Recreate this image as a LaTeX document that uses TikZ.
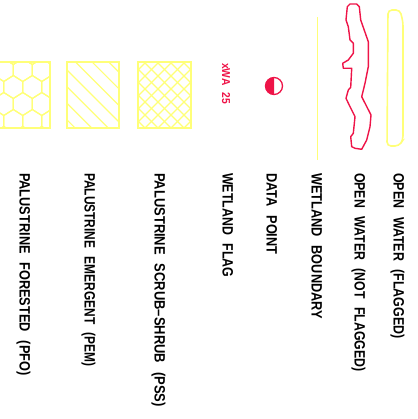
\documentclass[tikz,border=0pt]{standalone}
\usepackage{fontspec}
\newfontfamily\cadfont{Liberation Sans}[FakeStretch=0.85,WordSpace=2.5]
\definecolor{lgdyellow}{RGB}{255,255,120}
\definecolor{lgdred}{RGB}{238,20,72}

\begin{document}
\begin{tikzpicture}[x=1pt,y=-1pt,
  lbl/.style={rotate=-90,anchor=base west,inner sep=0pt,font=\cadfont\bfseries\fontsize{15}{15}\selectfont},
  patch/.style={draw=lgdyellow,line width=1.4pt},
  hatch/.style={draw=lgdyellow,line width=1.2pt}]
\useasboundingbox (0,0) rectangle (417,419);
% open water symbols
\draw[lgdyellow,line width=1.6pt,rounded corners=4pt] (388,10) -- (400,10) -- (403,22) -- (403,140) -- (399,146) -- (387,146) -- cycle;
\draw[lgdred,line width=1.4pt,line join=round] plot coordinates {(350,4) (356.7,4) (359.3,6.7) (360.7,20) (368.3,41.7) (368.3,66.7) (365,83.3) (361.7,96.7) (371,115) (370,126.7) (366.7,140) (361.7,149.3) (355,148.3) (351.7,146.7) (350.7,136.7) (353.3,133.3) (355,116.7) (350,106.7) (346,98.3) (348.3,90) (350.7,87.3) (351.7,68.3) (343.3,68.3) (342.7,63.3) (348.3,60) (353.3,53.3) (353.3,43.3) (350,40) (348.3,26.7) (346,20) (347.3,6.7)} -- cycle;
% wetland boundary
\draw[lgdyellow,line width=1pt] (317,17) -- (317,160);
% data point
\begin{scope}
\clip (260,70) rectangle (274,100);
\fill[lgdred] (274,86) circle[radius=8.5];
\end{scope}
\draw[lgdred,line width=1.3pt] (274,86) circle[radius=8.5];
% wetland flag
\node[lbl,font=\cadfont\bfseries\fontsize{11.5}{11.5}\selectfont,text=lgdred,xscale=1.05] (flagid) at (222,63) {xWA 25};
% forested
\begin{scope}
\clip (-2,62) rectangle (50,128);
\foreach \k in {-1,...,4}{
  \foreach \j in {-2,...,2}{
    \pgfmathsetmacro\hx{22.8+19*\j+9.5*mod(\k+2,2)}
    \pgfmathsetmacro\hy{70+17*\k}
    \draw[hatch] (\hx-9.5,\hy-5.5) -- (\hx-9.5,\hy+5.5) -- (\hx,\hy+11.5) -- (\hx+9.5,\hy+5.5) -- (\hx+9.5,\hy-5.5) -- (\hx,\hy-11.5) -- cycle;
  }
}
\end{scope}
\draw[patch] (-2,62) rectangle (50,128);
% emergent
\begin{scope}
\clip (67,62) rectangle (119,128);
\foreach \c in {-6,...,4}{\draw[hatch] (75.5+16.6*\c,62) -- ++(80,80);}
\end{scope}
\draw[patch] (67,62) rectangle (119,128);
% scrub-shrub
\begin{scope}
\clip (138,62) rectangle (191,128);
\foreach \c in {-7,...,6}{
  \draw[hatch] (144+13*\c,62) -- ++(80,80);
  \draw[hatch] (185-13*\c,62) -- ++(-80,80);
}
\end{scope}
\draw[patch] (138,62) rectangle (191,128);
% labels
\node[lbl] (pfo) at (19.6,173) {PALUSTRINE FORESTED (PFO)};
\node[lbl,xscale=0.935] (pem) at (84.6,173) {PALUSTRINE EMERGENT (PEM)};
\node[lbl,xscale=1.015] (pss) at (154.6,173) {PALUSTRINE SCRUB–SHRUB (PSS)};
\node[lbl,xscale=0.97] (flag) at (222.6,173) {WETLAND FLAG};
\node[lbl] (pt) at (266.6,173) {DATA POINT};
\node[lbl] (bnd) at (311.6,173) {WETLAND BOUNDARY};
\node[lbl,xscale=0.965] (own) at (354.6,173) {OPEN WATER (NOT FLAGGED)};
\node[lbl,xscale=0.975] (owf) at (393.6,173) {OPEN WATER (FLAGGED)};
\end{tikzpicture}
\end{document}
